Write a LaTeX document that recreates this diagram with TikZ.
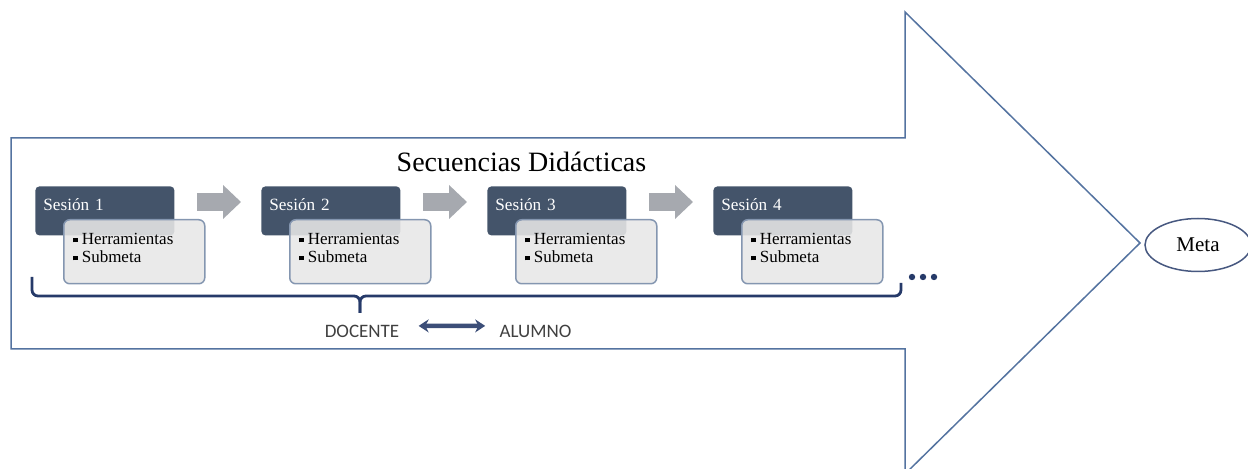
\documentclass[tikz,border=0pt]{standalone}
\usepackage{fontspec}
\setmainfont{Liberation Serif}
\newfontfamily\calibri{Carlito}
\usetikzlibrary{arrows.meta, positioning, calc, shapes.geometric}

\definecolor{contorno}{RGB}{84,115,160}
\definecolor{sesionazul}{RGB}{68,84,106}
\definecolor{cajagris}{RGB}{231,231,231}
\definecolor{bordegris}{RGB}{132,150,176}
\definecolor{flechagris}{RGB}{166,169,175}
\definecolor{azuloscuro}{RGB}{38,58,105}

\newcommand{\vineta}{\rule[1.3pt]{2.2pt}{2.2pt}\hspace{2pt}}

\begin{document}
\begin{tikzpicture}[>=Stealth, x=0.5pt, y=-0.5pt,
  sesion/.style={fill=sesionazul, text=white, rounded corners=2pt, anchor=north west,
    font=\fontsize{8.6}{10}\selectfont, align=left, text width=61.5pt,
    inner xsep=4pt, inner ysep=0pt, text height=12pt, text depth=12.5pt},
  caja/.style={draw=bordegris, fill=cajagris, fill opacity=0.88, line width=0.75pt,
    rounded corners=3pt, minimum width=70.5pt, minimum height=32pt,
    anchor=north west, inner sep=0pt},
  lista/.style={anchor=base west, inner sep=0pt, font=\fontsize{8.5}{10}\selectfont},
  paso/.style={draw=flechagris, line width=9pt, -{Triangle[length=9pt,width=16.5pt]}},
  llave/.style={draw=azuloscuro, line width=1.4pt, rounded corners=3pt},
  persona/.style={anchor=base, inner sep=0pt, text=black!75,
    font=\calibri\fontsize{9.5}{11}\selectfont},
  doble/.style={{Stealth[length=5pt,width=6.5pt]}-{Stealth[length=5pt,width=6.5pt]},
    draw=azuloscuro!90, line width=2.2pt},
  meta/.style={ellipse, draw=azuloscuro!85, line width=0.75pt, minimum width=53pt,
    minimum height=26.5pt, inner sep=0pt, font=\fontsize{10.5}{12}\selectfont}]
  \useasboundingbox (0,0) rectangle (1248,469);
  \clip (0,0) rectangle (1248,469);

  \draw[contorno, line width=0.75pt] (11,138) -- (905,138) -- (905,12) -- (1140,243)
    -- (905,474) -- (905,349) -- (11,349) -- cycle;

  \node[font=\fontsize{14}{16}\selectfont, anchor=base] (titulo) at (521.5,172)
    {Secuencias Didácticas};

  \foreach \i in {1,...,4} {
    \node[sesion] (s\i) at ({35+226*(\i-1)},186) {Sesión \i};
    \node[caja] (c\i) at ($(s\i.north west)+(28,33)$) {};
    \node[lista] (h\i) at ($(c\i.north west)+(10,26)$) {\vineta Herramientas};
    \node[lista] (m\i) at ($(h\i.base west)+(0,18)$) {\vineta Submeta};
  }
  \foreach \i [evaluate=\i as \j using int(\i+1)] in {1,2,3}
    \draw[paso] ($(s\i.north east)+(22,16)$) -- ($(s\j.north west)+(-20,16)$);

  \draw[llave] (32,277) |- (360,296) -- (360,313);
  \draw[llave] (360,313) -- (360,296) -| (901,283);
  \foreach \x in {912,923,934}
    \fill[azuloscuro] (\x,277) circle (1.6pt);

  \node[persona] (docente) at (362,338) {DOCENTE};
  \node[persona] (alumno) at (535.5,338) {ALUMNO};
  \draw[doble, shorten <=9.5pt, shorten >=7pt]
    ([yshift=3pt]docente.east) -- ([yshift=3pt]alumno.west);

  \node[meta] (meta) at (1198,245) {Meta};
\end{tikzpicture}
\end{document}
